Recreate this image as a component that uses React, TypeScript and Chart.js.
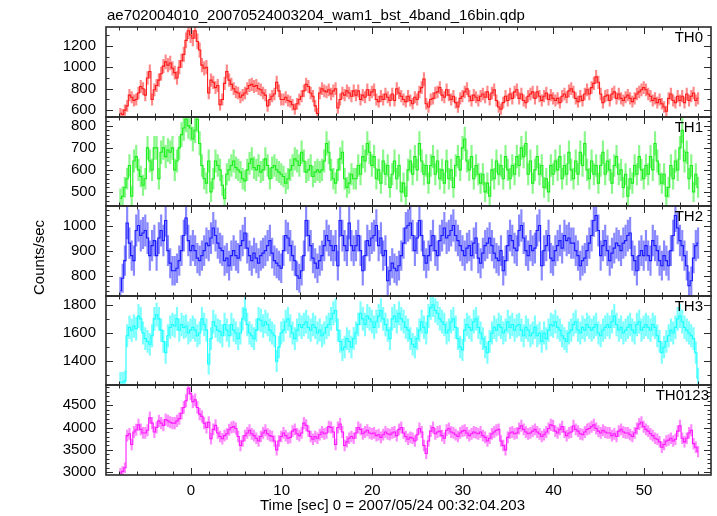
import React, { useEffect, useRef } from 'react';
import { Chart, registerables } from 'chart.js';

Chart.register(...registerables);

// ---------- data ----------
const TITLE = 'ae702004010_20070524003204_wam1_bst_4band_16bin.qdp';
const X_TITLE = 'Time [sec] 0 = 2007/05/24 00:32:04.203';
const Y_TITLE = 'Counts/sec';
const T_START = -7.92;
const BIN = 0.25;
const xTickValues = [0, 10, 20, 30, 40, 50];
const panelNames = ['TH0', 'TH1', 'TH2', 'TH3', 'TH0123'];

const th0 = [
  570, 560, 600, 640, 740, 720, 690, 700,
  760, 820, 800, 740, 900, 960, 700, 790,
  830, 880, 940, 1010, 1050, 1020, 1040, 990,
  950, 900, 1000, 1060, 1120, 1250, 1340, 1300,
  1270, 1340, 1240, 1160, 1020, 990, 1000, 760,
  880, 860, 810, 830, 650, 700, 850, 960,
  880, 840, 800, 770, 760, 720, 740, 760,
  800, 830, 840, 820, 830, 800, 790, 760,
  740, 640, 700, 730, 750, 860, 780, 700,
  700, 720, 690, 680, 650, 610, 660, 700,
  730, 780, 840, 820, 760, 730, 640, 570,
  760, 800, 780, 770, 790, 750, 780, 800,
  620, 700, 760, 740, 780, 760, 730, 780,
  740, 780, 700, 740, 720, 790, 740, 770,
  790, 700, 680, 730, 700, 750, 720, 690,
  750, 690, 800, 760, 730, 700, 680, 730,
  690, 660, 720, 700, 770, 810, 890, 660,
  630, 700, 710, 760, 770, 810, 740, 720,
  790, 740, 700, 730, 670, 630, 710, 730,
  770, 800, 730, 690, 740, 720, 690, 730,
  750, 720, 770, 700, 760, 790, 690, 630,
  610, 670, 730, 690, 750, 710, 770, 790,
  710, 750, 690, 670, 730, 750, 770, 710,
  770, 730, 690, 730, 760, 700, 740, 710,
  690, 710, 670, 730, 750, 720, 780, 800,
  770, 710, 680, 730, 690, 750, 790, 750,
  810, 850, 910, 860, 750, 670, 730, 740,
  690, 750, 770, 710, 750, 710, 690, 720,
  740, 710, 680, 710, 750, 770, 790, 810,
  790, 750, 730, 690, 710, 670, 700, 660,
  630, 590, 710, 750, 690, 670, 730, 690,
  730, 670, 750, 690, 730, 760, 690, 710,
];

const th1 = [
  470, 480, 520, 560, 620, 480, 640, 660,
  600, 570, 530, 560, 700, 640, 600, 700,
  700, 560, 680, 700, 660, 690, 680, 700,
  600, 640, 700, 760, 790, 830, 800, 790,
  740, 780, 830, 720, 620, 560, 540, 640,
  500, 560, 640, 620, 600, 530, 470, 580,
  600, 620, 640, 610, 600, 590, 560, 550,
  600, 630, 650, 610, 600, 620, 590, 600,
  650, 620, 560, 610, 620, 600, 590, 580,
  570, 540, 560, 600, 620, 650, 640, 620,
  680, 640, 590, 600, 620, 570, 590, 600,
  590, 600, 640, 720, 680, 600, 560, 540,
  600, 650, 680, 560, 520, 540, 580, 560,
  560, 620, 580, 660, 640, 720, 680, 620,
  660, 560, 600, 540, 640, 580, 620, 520,
  580, 640, 560, 620, 500, 540, 480, 600,
  640, 580, 660, 600, 720, 640, 580, 620,
  540, 620, 660, 580, 640, 560, 600, 540,
  640, 560, 600, 520, 620, 660, 600, 700,
  740, 640, 600, 660, 560, 620, 580, 540,
  580, 500, 540, 480, 600, 560, 640, 580,
  620, 560, 660, 600, 560, 620, 580, 660,
  620, 700, 660, 720, 580, 640, 540, 600,
  660, 580, 620, 520, 560, 500, 620, 580,
  640, 600, 660, 560, 620, 580, 680, 600,
  560, 640, 580, 680, 620, 720, 600, 560,
  640, 580, 620, 540, 620, 680, 580, 640,
  600, 540, 620, 660, 580, 600, 520, 580,
  480, 560, 540, 620, 580, 660, 600, 560,
  620, 580, 660, 600, 720, 640, 580, 540,
  580, 480, 520, 620, 560, 640, 600, 700,
  780, 640, 680, 560, 620, 500, 580, 520,
];

const th2 = [
  740, 790, 860, 1010, 930, 880, 860, 980,
  1000, 960, 970, 980, 950, 880, 920, 940,
  880, 950, 980, 940, 1020, 900, 850, 820,
  820, 830, 860, 900, 960, 1030, 940, 900,
  920, 900, 870, 860, 880, 900, 930, 920,
  950, 990, 960, 930, 910, 900, 860, 870,
  840, 880, 900, 880, 870, 920, 940, 970,
  910, 880, 860, 890, 870, 850, 880, 890,
  900, 920, 940, 890, 860, 850, 840, 830,
  900, 960, 950, 920, 880, 860, 800, 790,
  820, 880, 1020, 960, 920, 870, 850, 830,
  860, 880, 920, 960, 940, 920, 900, 920,
  840, 1020, 960, 920, 900, 1010, 920, 900,
  920, 960, 900, 820, 880, 940, 920, 950,
  960, 1000, 920, 950, 880, 900, 780, 820,
  850, 830, 820, 840, 880, 930, 990, 1000,
  1010, 960, 900, 950, 1020, 960, 880, 850,
  880, 920, 960, 900, 880, 940, 960, 990,
  950, 960, 980, 1000, 960, 940, 920, 900,
  880, 910, 920, 880, 930, 950, 870, 850,
  890, 920, 930, 950, 920, 890, 870, 860,
  900, 820, 860, 920, 960, 940, 910, 900,
  980, 1000, 950, 900, 880, 920, 900, 910,
  980, 1000, 840, 900, 920, 960, 870, 860,
  900, 920, 940, 910, 960, 940, 950, 930,
  930, 900, 880, 840, 860, 870, 900, 930,
  960, 1020, 1040, 980, 880, 920, 940, 900,
  860, 890, 910, 930, 920, 900, 930, 940,
  960, 970, 880, 860, 820, 880, 900, 880,
  920, 880, 860, 940, 920, 900, 860, 840,
  880, 860, 840, 900, 960, 1040, 990, 940,
  920, 880, 840, 760, 780, 870, 920, 930,
];

const th3 = [
  1250, 1250, 1260, 1580, 1640, 1620, 1650, 1630,
  1720, 1700, 1600, 1560, 1540, 1520, 1580, 1700,
  1730, 1700, 1620, 1540, 1460, 1580, 1640, 1660,
  1650, 1700, 1620, 1660, 1640, 1650, 1600, 1620,
  1640, 1620, 1580, 1600, 1700, 1660, 1620, 1380,
  1560, 1680, 1650, 1620, 1610, 1580, 1660, 1620,
  1580, 1660, 1620, 1600, 1560, 1600, 1700, 1770,
  1660, 1600, 1580, 1560, 1620, 1700, 1690, 1650,
  1680, 1660, 1620, 1600, 1580, 1400, 1500, 1600,
  1620, 1680, 1700, 1650, 1600, 1560, 1620, 1660,
  1640, 1660, 1680, 1640, 1620, 1660, 1640, 1600,
  1620, 1580, 1600, 1640, 1660, 1700, 1740, 1760,
  1620, 1540, 1480, 1500, 1560, 1540, 1500, 1560,
  1600, 1660, 1740, 1700, 1660, 1720, 1700, 1680,
  1640, 1680, 1720, 1760, 1700, 1660, 1620, 1560,
  1700, 1720, 1680, 1740, 1700, 1680, 1640, 1620,
  1560, 1520, 1500, 1560, 1620, 1680, 1640, 1600,
  1720, 1780, 1800, 1760, 1740, 1700, 1680, 1660,
  1600, 1620, 1680, 1700, 1640, 1560, 1500, 1480,
  1620, 1660, 1640, 1620, 1680, 1700, 1640, 1600,
  1560, 1500, 1460, 1540, 1600, 1640, 1620, 1660,
  1640, 1600, 1620, 1680, 1640, 1660, 1620, 1650,
  1660, 1620, 1580, 1640, 1620, 1580, 1600, 1640,
  1580, 1600, 1540, 1600, 1560, 1620, 1660, 1650,
  1680, 1640, 1620, 1580, 1560, 1540, 1600, 1620,
  1660, 1680, 1620, 1600, 1640, 1620, 1660, 1640,
  1620, 1640, 1660, 1600, 1580, 1620, 1640, 1660,
  1640, 1680, 1720, 1660, 1620, 1640, 1600, 1620,
  1640, 1660, 1620, 1600, 1660, 1680, 1620, 1640,
  1660, 1640, 1620, 1660, 1640, 1580, 1540, 1460,
  1500, 1540, 1580, 1620, 1600, 1640, 1700, 1720,
  1680, 1640, 1620, 1600, 1580, 1560, 1460, 1280,
];

const th0123 = [
  2980, 3020, 3100, 3820, 3860, 3620, 3900, 3950,
  4060, 3960, 3880, 3880, 3940, 4220, 4100, 3900,
  4000, 4150, 4100, 4050, 4180, 4150, 4120, 4100,
  4100, 4150, 4200, 4320, 4450, 4600, 4880, 4760,
  4580, 4620, 4450, 4300, 4250, 4100, 4000, 4120,
  3750, 3960, 4050, 3880, 3800, 3750, 3820, 3860,
  3950, 4000, 4020, 3980, 3800, 3600, 3700, 3820,
  3880, 3940, 3860, 3820, 3760, 3700, 3800, 3880,
  3940, 3860, 3820, 3800, 3700, 3500, 3700, 3800,
  3880, 3820, 3760, 3780, 3920, 3960, 3860, 3820,
  3880, 4100, 4050, 3920, 3800, 3740, 3800, 3760,
  3840, 3900, 3860, 3880, 4020, 4000, 3900, 3620,
  4000, 4080, 3900, 3600, 3680, 3760, 3800, 3760,
  3880, 4000, 3960, 3860, 3900, 3940, 3880, 3860,
  3880, 3820, 3840, 3780, 3840, 3900, 3860, 3840,
  3880, 3900, 3820, 3960, 4000, 3880, 3800, 3740,
  3780, 3760, 3700, 3840, 3980, 3900, 3600, 3420,
  3700, 3920, 4000, 3860, 3900, 3920, 3820, 3760,
  3940, 3980, 3900, 3880, 3840, 3800, 3880, 3920,
  3940, 3880, 3820, 3860, 3900, 3880, 3860, 3900,
  3820, 3780, 3700, 3760, 3860, 3900, 3940, 3960,
  3700, 3600, 3500, 3780, 3880, 3900, 3860, 3880,
  3980, 4040, 3960, 3900, 3860, 3880, 3920, 3960,
  3900, 3860, 3800, 3840, 3900, 3980, 4060, 4040,
  3920, 3880, 3960, 4020, 3900, 3820, 3880, 3900,
  4040, 3960, 3920, 3860, 3840, 3900, 3960, 3980,
  4020, 4060, 3980, 3920, 3880, 3940, 3900, 3880,
  3880, 3820, 3860, 3800, 3920, 3960, 3900, 3880,
  3880, 3840, 3800, 3880, 3980, 4080, 4120, 4020,
  3960, 3920, 3860, 3820, 3760, 3740, 3680, 3560,
  3620, 3700, 3720, 3760, 3700, 3740, 3920, 4040,
  3760, 3680, 3760, 3880, 3940, 3640, 3560, 3460,
];

const seriesList = [th0, th1, th2, th3, th0123];
const yMins = [540, 435, 720, 1228, 2939];
const yMaxs = [1375, 842, 1077, 1864, 4943];
const yMajorTicks = [
  [600, 800, 1000, 1200],
  [500, 600, 700, 800],
  [800, 900, 1000],
  [1400, 1600, 1800],
  [3000, 3500, 4000, 4500],
];
const yMinorStep = [100, 20, 20, 100, 100];

// ---------- styles ----------
const lineColors = ['#ff1a1a', '#1aee1a', '#1a1aff', '#1affff', '#ff1aff'];
const errColors = [
  'rgba(255,40,40,0.55)',
  'rgba(40,240,40,0.55)',
  'rgba(40,40,255,0.55)',
  'rgba(40,255,255,0.6)',
  'rgba(255,40,255,0.55)',
];
const FONT = '"Liberation Sans", Arial, Helvetica, sans-serif';
const W = 717;
const H = 516;
const AREA_TOP = 27;
const AREA_BOTTOM = 475;
const AREA_LEFT = 106;
const AREA_RIGHT = 711;
const X_MIN = -9.38;
const X_MAX = 57.38;

const overlayPlugin = {
  id: 'qdpOverlay',
  afterDraw(chart: any) {
    const ctx = chart.ctx;
    const xs = chart.scales.x;
    const left = chart.chartArea.left;
    const right = chart.chartArea.right;
    ctx.save();
    ctx.strokeStyle = '#2a2a2a';
    for (let k = 0; k < 5; k++) {
      const s = chart.scales['y' + k];
      const top = Math.round(s.top);
      const bottom = Math.round(s.bottom);
      ctx.lineWidth = 1.6;
      ctx.strokeRect(Math.round(left), top, Math.round(right) - Math.round(left), bottom - top);
      ctx.lineWidth = 1;
      ctx.beginPath();
      for (let v = -8; v <= 56; v += 2) {
        const px = Math.round(xs.getPixelForValue(v)) + 0.5;
        const len = v % 10 === 0 ? 7 : 3.5;
        ctx.moveTo(px, top);
        ctx.lineTo(px, top + len);
        ctx.moveTo(px, bottom);
        ctx.lineTo(px, bottom - len);
      }
      const step = yMinorStep[k];
      const start = Math.ceil(yMins[k] / step) * step;
      for (let v = start; v <= yMaxs[k]; v += step) {
        const py = Math.round(s.getPixelForValue(v)) + 0.5;
        const len = yMajorTicks[k].includes(v) ? 7 : 3.5;
        ctx.moveTo(left, py);
        ctx.lineTo(left + len, py);
        ctx.moveTo(right, py);
        ctx.lineTo(right - len, py);
      }
      ctx.stroke();
    }
    ctx.fillStyle = '#000';
    ctx.font = '15px ' + FONT;
    // x tick labels
    ctx.textAlign = 'center';
    ctx.textBaseline = 'middle';
    for (const v of xTickValues) {
      ctx.fillText(String(v), xs.getPixelForValue(v), 490.5);
    }
    ctx.textBaseline = 'alphabetic';
    ctx.textAlign = 'left';
    ctx.fillText(TITLE, 107, 20);
    ctx.fillText(X_TITLE, 260, 509.5);
    for (let k = 0; k < 5; k++) {
      const s = chart.scales['y' + k];
      ctx.textAlign = 'right';
      ctx.fillText(panelNames[k], k === 4 ? right - 2 : right - 8, s.top + 15);
    }
    ctx.save();
    ctx.translate(43.5, 257.5);
    ctx.rotate(-Math.PI / 2);
    ctx.textAlign = 'center';
    ctx.fillText(Y_TITLE, 0, 0);
    ctx.restore();
    ctx.restore();
  },
};

function buildChart(canvas: HTMLCanvasElement) {
  const datasets: any[] = [];
  seriesList.forEach((vals, k) => {
    const id = 'y' + k;
    datasets.push({
      type: 'bar',
      data: vals.map((v, i) => {
        const e = 2 * Math.sqrt(v);
        return { x: T_START + BIN * (i + 0.5), y: [v - e, v + e] };
      }),
      xAxisID: 'x',
      yAxisID: id,
      backgroundColor: errColors[k],
      borderWidth: 0,
      barThickness: 1.5,
      grouped: false,
      order: 2,
    });
    datasets.push({
      type: 'line',
      data: vals.map((v, i) => ({ x: T_START + BIN * (i + 0.5), y: v })),
      xAxisID: 'x',
      yAxisID: id,
      borderColor: lineColors[k],
      borderWidth: 1.1,
      pointRadius: 0,
      stepped: 'middle',
      fill: false,
      order: 1,
    });
  });

  const yScale = (k: number) => ({
    type: 'linear',
    position: 'left',
    stack: 'panels',
    stackWeight: 1,
    offset: false,
    min: yMins[k],
    max: yMaxs[k],
    grid: { display: false, drawTicks: false, offset: false },
    border: { display: false },
    ticks: {
      font: { family: FONT, size: 15 },
      color: '#000',
      padding: 10,
      autoSkip: false,
      callback: (v: any) => String(v),
    },
    afterBuildTicks: (s: any) => {
      s.ticks = yMajorTicks[k].map((v) => ({ value: v }));
    },
    afterFit: (s: any) => {
      s.width = AREA_LEFT;
    },
  });

  return new Chart(canvas, {
    type: 'line',
    data: { datasets },
    options: {
      animation: false,
      responsive: false,
      events: [],
      layout: { padding: { top: AREA_TOP, right: W - AREA_RIGHT, left: 0, bottom: 0 } },
      plugins: { legend: { display: false }, tooltip: { enabled: false }, title: { display: false } },
      scales: {
        x: {
          type: 'linear',
          position: 'bottom',
          offset: false,
          min: X_MIN,
          max: X_MAX,
          grid: { display: false, drawTicks: false, offset: false },
          border: { display: false },
          ticks: { display: false },
          afterBuildTicks: (s: any) => {
            s.ticks = xTickValues.map((v) => ({ value: v }));
          },
          afterFit: (s: any) => {
            s.height = H - AREA_BOTTOM;
          },
        },
        y4: yScale(4),
        y3: yScale(3),
        y2: yScale(2),
        y1: yScale(1),
        y0: yScale(0),
      } as any,
    },
    plugins: [overlayPlugin],
  } as any);
}

export default function App() {
  const ref = useRef<HTMLCanvasElement | null>(null);
  useEffect(() => {
    if (!ref.current) return;
    const chart = buildChart(ref.current);
    return () => chart.destroy();
  }, []);
  return (
    <div style={{ position: 'fixed', left: 0, top: 0, width: W, height: H, background: '#fff' }}>
      <canvas ref={ref} width={W} height={H} style={{ width: W, height: H, display: 'block' }} />
    </div>
  );
}
